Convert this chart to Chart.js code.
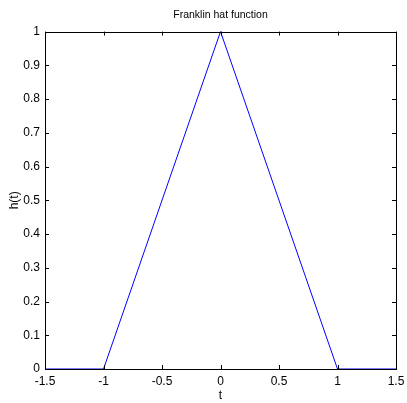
<!DOCTYPE html>
<html>
<head>
<meta charset="utf-8">
<script src="https://cdn.jsdelivr.net/npm/chart.js@4/dist/chart.umd.min.js"></script>
<style>
  html, body { margin: 0; padding: 0; background: #fff; }
  #wrap { width: 407px; height: 403px; }
</style>
</head>
<body>
<div id="wrap"><canvas id="hat"></canvas></div>
<script>
// Franklin hat function, sampled at the corners
let tValues = [-1.5, -1, 0, 1, 1.5]
let hValues = [0, 0, 1, 0, 0]
let xTicks = [-1.5, -1, -0.5, 0, 0.5, 1, 1.5]
let yTicks = [0, 0.1, 0.2, 0.3, 0.4, 0.5, 0.6, 0.7, 0.8, 0.9, 1]

let points = tValues.map((t, i) => ({ x: t, y: hValues[i] }))

// matlab style box with ticks pointing inward, on all four sides
let boxTicks = {
    id: 'boxTicks',
    afterDraw(chart) {
        let ctx = chart.ctx
        let a = chart.chartArea
        let xs = chart.scales.x
        let ys = chart.scales.y
        let len = 4
        ctx.save()
        ctx.strokeStyle = '#000'
        ctx.lineWidth = 1
        ctx.beginPath()
        xTicks.forEach(v => {
            let px = Math.round(xs.getPixelForValue(v)) + 0.5
            ctx.moveTo(px, a.bottom); ctx.lineTo(px, a.bottom - len)
            ctx.moveTo(px, a.top); ctx.lineTo(px, a.top + len)
        })
        yTicks.forEach(v => {
            let py = Math.round(ys.getPixelForValue(v)) + 0.5
            ctx.moveTo(a.left, py); ctx.lineTo(a.left + len, py)
            ctx.moveTo(a.right, py); ctx.lineTo(a.right - len, py)
        })
        ctx.stroke()
        ctx.strokeRect(Math.round(a.left) + 0.5, Math.round(a.top) + 0.5,
            Math.round(a.right - a.left), Math.round(a.bottom - a.top))
        ctx.restore()
    }
}

let font = { family: '"Liberation Sans", Arial, sans-serif', size: 12 }

new Chart(document.getElementById('hat'), {
    type: 'line',
    data: {
        datasets: [{
            data: points,
            borderColor: '#0000ff',
            borderWidth: 1,
            pointRadius: 0,
            tension: 0,
            fill: false,
            clip: false
        }]
    },
    options: {
        responsive: true,
        maintainAspectRatio: false,
        animation: false,
        devicePixelRatio: 1,
        layout: { padding: { left: 7, right: 11, top: 9, bottom: 0 } },
        plugins: {
            legend: { display: false },
            tooltip: { enabled: false },
            title: {
                display: true,
                fullSize: false,
                text: 'Franklin hat function',
                color: '#000',
                font: { family: font.family, size: 10.5, weight: 'normal' },
                padding: { top: 0, bottom: 10 }
            }
        },
        scales: {
            x: {
                type: 'linear',
                min: -1.5,
                max: 1.5,
                afterBuildTicks: s => { s.ticks = xTicks.map(v => ({ value: v })) },
                afterFit: s => {
                    s.height = 34
                    // end labels may hang over the box, like matlab
                    s.paddingLeft = 0
                    s.paddingRight = 0
                },
                ticks: {
                    color: '#000',
                    font: font,
                    padding: 5,
                    maxRotation: 0,
                    callback: v => String(Number(v.toFixed(1)))
                },
                grid: { display: false, drawTicks: false, tickLength: 0 },
                border: { display: false },
                title: { display: true, text: 't', color: '#000', font: font, padding: { top: 0, bottom: 0 } }
            },
            y: {
                type: 'linear',
                min: 0,
                max: 1,
                afterBuildTicks: s => { s.ticks = yTicks.map(v => ({ value: v })) },
                afterFit: s => { s.width = 38 },
                ticks: {
                    color: '#000',
                    font: font,
                    padding: 5,
                    callback: v => String(Number(v.toFixed(1)))
                },
                grid: { display: false, drawTicks: false, tickLength: 0 },
                border: { display: false },
                title: { display: true, text: 'h(t)', color: '#000', font: font, padding: { top: 0, bottom: 2 } }
            }
        }
    },
    plugins: [boxTicks]
})
</script>
</body>
</html>
